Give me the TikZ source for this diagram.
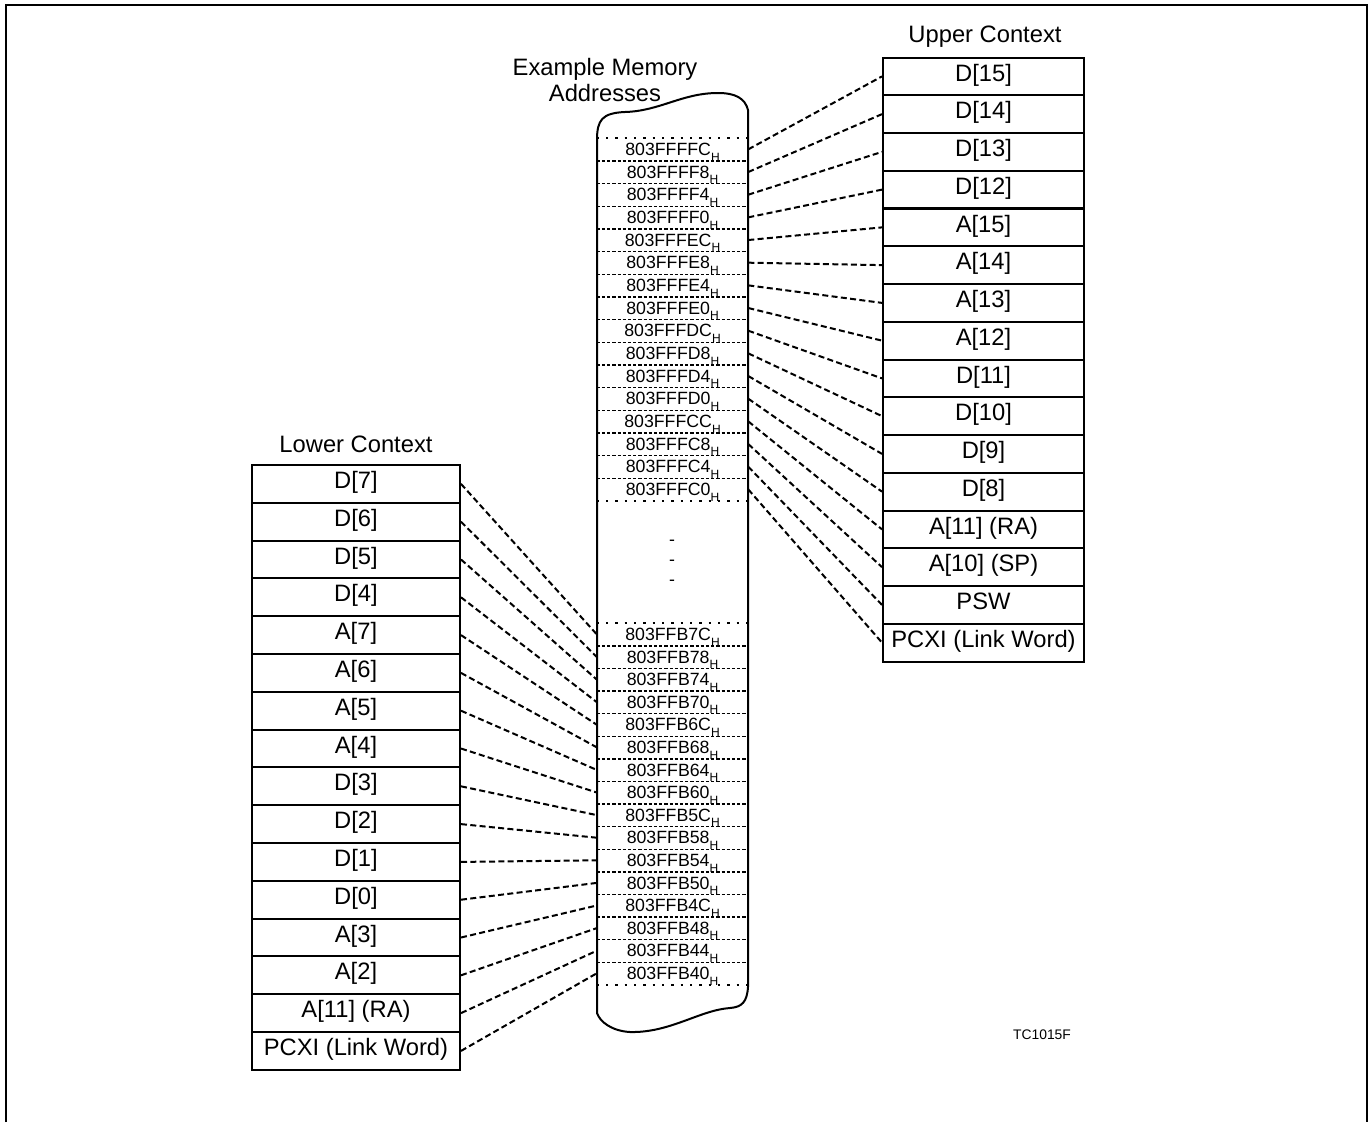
\documentclass[tikz,border=0pt]{standalone}
\usepackage{fontspec}
\setmainfont{Liberation Sans}
\newcommand\hsub{\raisebox{-4.3pt}[0pt][0pt]{\fontsize{9}{9}\selectfont H}}
\begin{document}
\begin{tikzpicture}[x=0.75pt,y=-0.75pt,
  boxfont/.style={font=\fontsize{17.8}{21}\selectfont},
  ubox/.style={draw, line width=1.5pt, minimum width=150.75pt, minimum height=28.3pt,
    inner sep=0pt, boxfont, text height=0.7em, text depth=0pt},
  lbox/.style={ubox, minimum width=156pt},
  addr/.style={inner sep=0pt, minimum width=113.25pt, minimum height=17pt,
    font=\fontsize{13.3}{15}\selectfont},
  title/.style={boxfont, inner sep=0pt, align=center},
  conn/.style={line width=1.5pt, dash pattern=on 4.5pt off 2.5pt},
  sepline/.style={line width=1pt, dash pattern=on 2.4pt off 1.5pt},
  dotline/.style={line width=1.6pt, dash pattern=on 1.6pt off 5.4pt},
  outline/.style={line width=1.5pt},
  frame/.style={line width=1.5pt}]
\useasboundingbox (0,0) rectangle (1370,1122);
% frame
\draw[frame] (6,1122) -- (6,5) -- (1367,5) -- (1367,1122);
% memory column outline
\draw[outline] (597,1013) -- (597,140)
  .. controls (597,120) and (602,113) .. (625,112)
  .. controls (660,111) and (682,93) .. (718,93)
  .. controls (735,93) and (745,98) .. (748,110)
  -- (748,987)
  .. controls (747,1002) and (742,1007) .. (730,1008)
  .. controls (700,1010) and (670,1033) .. (630,1032)
  .. controls (612,1031) and (600,1022) .. (597,1013) -- cycle;
% titles
\node[title] (ut) at (985,37) {Upper Context};
\node[title] (lt) at (356,444) {Lower Context};
\node[title] (mt) at (605,80) {Example Memory\\[-1.5pt]Addresses};
\node[font=\fontsize{10.4}{12}\selectfont, inner sep=0pt] (tc) at (1042,1035) {TC1015F};
% upper memory rows
\foreach \a [count=\i] in {FFFC,FFF8,FFF4,FFF0,FFEC,FFE8,FFE4,FFE0,FFDC,FFD8,FFD4,FFD0,FFCC,FFC8,FFC4,FFC0}{
  \node[addr] (m\i) at (672.5,{138+22.67*(\i-0.5)}) {803F\a\hsub};
}
% lower memory rows
\foreach \a [count=\i] in {B7C,B78,B74,B70,B6C,B68,B64,B60,B5C,B58,B54,B50,B4C,B48,B44,B40}{
  \node[addr] (n\i) at (672.5,{623+22.6*(\i-0.5)}) {803FF\a\hsub};
}
% separators
\draw[dotline] (m1.north west) -- (m1.north east);
\draw[dotline] (m16.south west) -- (m16.south east);
\draw[dotline] (n1.north west) -- (n1.north east);
\draw[dotline] (n16.south west) -- (n16.south east);
\foreach \i in {1,...,15}{
  \draw[sepline] (m\i.south west) -- (m\i.south east);
  \draw[sepline] (n\i.south west) -- (n\i.south east);
}
% ellipsis marks
\node[addr, minimum width=0pt, minimum height=0pt] (d1) at (672,543) {-};
\node[addr, minimum width=0pt, minimum height=0pt] (d2) at (672,563) {-};
\node[addr, minimum width=0pt, minimum height=0pt] (d3) at (672,583) {-};
% upper context boxes
\foreach \l [count=\i] in {{D[15]},{D[14]},{D[13]},{D[12]},{A[15]},{A[14]},{A[13]},{A[12]},{D[11]},{D[10]},{D[9]},{D[8]},{A[11] (RA)},{A[10] (SP)},{PSW},{PCXI (Link Word)}}{
  \node[ubox] (u\i) at (983.5,{57.5+37.75*(\i-0.5)}) {\l};
}
% lower context boxes
\foreach \l [count=\i] in {{D[7]},{D[6]},{D[5]},{D[4]},{A[7]},{A[6]},{A[5]},{A[4]},{D[3]},{D[2]},{D[1]},{D[0]},{A[3]},{A[2]},{A[11] (RA)},{PCXI (Link Word)}}{
  \node[lbox] (l\i) at (356,{465+37.8*(\i-0.5)}) {\l};
}
% connectors
\foreach \i in {1,...,16}{
  \draw[conn] (m\i.east) -- (u\i.west);
  \draw[conn] (l\i.east) -- (n\i.west);
}
\end{tikzpicture}
\end{document}
